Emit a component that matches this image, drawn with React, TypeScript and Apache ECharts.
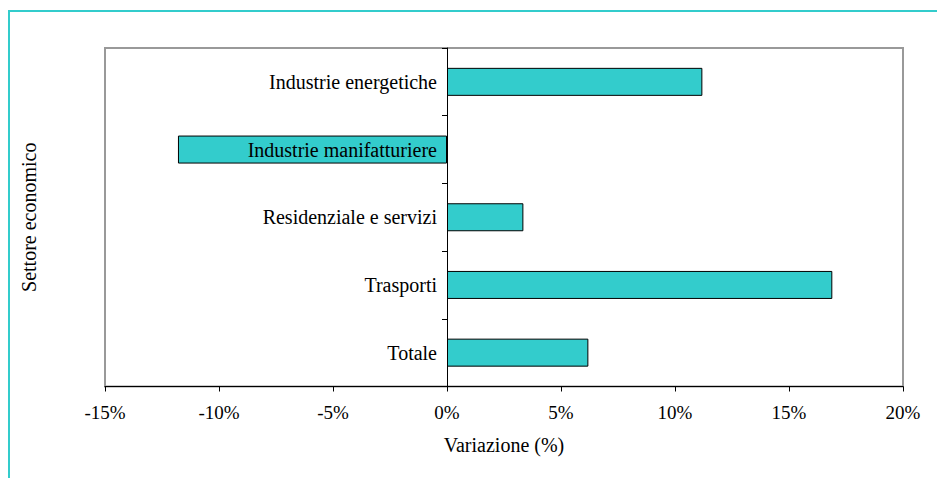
import React, { useEffect, useRef } from "react";
import * as echarts from "echarts";

const categories = [
  "Industrie energetiche",
  "Industrie manifatturiere",
  "Residenziale e servizi",
  "Trasporti",
  "Totale",
];
const values = [11.2, -11.8, 3.35, 16.9, 6.2];
const xMin = -15;
const xMax = 20;
const xInterval = 5;

const FONT = "'Liberation Serif', 'Times New Roman', serif";

export default function App() {
  const ref = useRef<HTMLDivElement>(null);
  useEffect(() => {
    document.body.style.margin = "0";
    const chart = echarts.init(ref.current!, null, { renderer: "svg" });
    const gridLeft = 105;
    const gridRight = 34;
    const plotW = 937 - gridLeft - gridRight;
    const zeroX = gridLeft + ((0 - xMin) / (xMax - xMin)) * plotW;
    chart.setOption({
      animation: false,
      backgroundColor: "#ffffff",
      textStyle: { fontFamily: FONT, color: "#000" },
      graphic: [
        {
          type: "rect",
          shape: { x: 9, y: 11, width: 1200, height: 1000 },
          style: { fill: "none", stroke: "#33CCCC", lineWidth: 2 },
          silent: true,
        },
      ],
      grid: {
        left: gridLeft,
        right: gridRight,
        top: 48,
        bottom: 91.5,
        containLabel: false,
        outerBoundsMode: "none",
        show: true,
        borderColor: "#999999",
        borderWidth: 2,
        backgroundColor: "transparent",
      },
      xAxis: {
        type: "value",
        min: xMin,
        max: xMax,
        interval: xInterval,
        name: "Variazione (%)",
        nameLocation: "middle",
        nameGap: 48,
        nameTextStyle: { fontFamily: FONT, fontSize: 20, color: "#000" },
        axisLine: { show: true, lineStyle: { color: "#000", width: 1 } },
        axisTick: { show: true, length: 5, lineStyle: { color: "#000" } },
        splitLine: { show: false },
        axisLabel: {
          formatter: "{value}%",
          fontFamily: FONT,
          fontSize: 19,
          color: "#000",
          margin: 16,
        },
      },
      yAxis: {
        type: "category",
        data: categories,
        inverse: true,
        z: 10,
        name: "Settore economico",
        nameLocation: "middle",
        nameGap: 66,
        nameTextStyle: { fontFamily: FONT, fontSize: 20, color: "#000" },
        axisLine: { show: true, onZero: true, lineStyle: { color: "#000", width: 1 } },
        axisTick: { show: true, length: 5, alignWithLabel: false, lineStyle: { color: "#000" } },
        axisLabel: {
          fontFamily: FONT,
          fontSize: 20,
          color: "#000",
          margin: -(zeroX - gridLeft) + 10,
        },
        splitLine: { show: false },
      },
      series: [
        {
          type: "bar",
          data: values,
          barWidth: 28,
          itemStyle: { color: "#33CCCC", borderColor: "#000", borderWidth: 1 },
        },
      ],
    });
    return () => chart.dispose();
  }, []);
  return <div ref={ref} style={{ width: 937, height: 478 }} />;
}
